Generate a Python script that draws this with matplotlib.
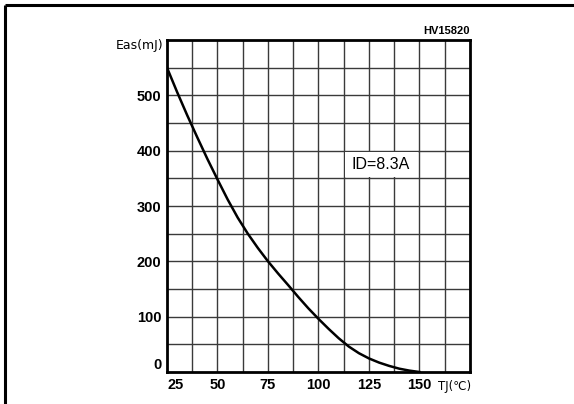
import numpy as np
import matplotlib.pyplot as plt
from matplotlib.lines import Line2D
from matplotlib.patches import Rectangle

# Avalanche energy vs. junction temperature
tj = [25, 30, 35, 40, 45, 50, 55, 60, 65, 70, 75, 80, 85, 90, 95,
      100, 105, 110, 115, 120, 125, 130, 135, 140, 145, 150]
eas = [550, 506, 464, 424, 385, 348, 312, 279, 250, 224, 200, 178, 157,
       135.5, 115, 96, 78, 61, 46, 34, 24.5, 17, 11, 6, 2.5, 0]

x_ticks = [25, 50, 75, 100, 125, 150]
y_ticks = [0, 100, 200, 300, 400, 500]

W, H = 574, 404
fig = plt.figure(figsize=(W / 100, H / 100), dpi=100)
plt.rcParams["font.family"] = ["Liberation Sans", "DejaVu Sans"]

# frame around the drawing (left and top edges only)
fig.add_artist(Line2D([5 / W, 5 / W], [0, 1 - 5 / H], transform=fig.transFigure,
                      color="black", lw=2.2, solid_capstyle="butt"))
fig.add_artist(Line2D([5 / W, 1], [1 - 5 / H, 1 - 5 / H], transform=fig.transFigure,
                      color="black", lw=2.2, solid_capstyle="butt"))

ax = fig.add_axes([167 / W, 32 / H, 303 / W, 332 / H])
ax.set_xlim(25, 175)
ax.set_ylim(0, 600)

# fine grid every 12.5 degC / 50 mJ
for gx in np.arange(37.5, 175, 12.5):
    ax.axvline(gx, color="#3a3a3a", lw=1.0, zorder=1)
for gy in np.arange(50, 600, 50):
    ax.axhline(gy, color="#3a3a3a", lw=1.0, zorder=1)

ax.plot(tj, eas, color="black", lw=1.8, zorder=3)

# blank cell for the current label
ax.add_patch(Rectangle((113.2, 352), 36.2, 46, facecolor="white",
                       edgecolor="none", zorder=2))
ax.text(131, 375, "ID=8.3A", ha="center", va="center", fontsize=11.5, zorder=4)

ax.set_xticks(x_ticks)
ax.set_yticks(y_ticks)
ax.tick_params(length=0, pad=4, labelsize=10.5)
for lab in ax.get_xticklabels():
    lab.set_fontweight("bold")
for lab in ax.get_yticklabels():
    lab.set_fontweight("bold")
ax.get_xticklabels()[0].set_horizontalalignment("left")
ax.get_yticklabels()[0].set_verticalalignment("bottom")

for side in ax.spines.values():
    side.set_linewidth(2.0)

ax.text(1.0, 1.012, "HV15820", transform=ax.transAxes, ha="right", va="bottom",
        fontsize=8, fontweight="bold")
ax.text(-0.012, 0.982, "Eas(mJ)", transform=ax.transAxes, ha="right", va="center",
        fontsize=9, family=["DejaVu Sans"])
ax.text(0.895, -0.025, "TJ(℃)", transform=ax.transAxes, ha="left", va="top",
        fontsize=8.5, family=["DejaVu Sans"])

fig.savefig("out.png", dpi=100)
